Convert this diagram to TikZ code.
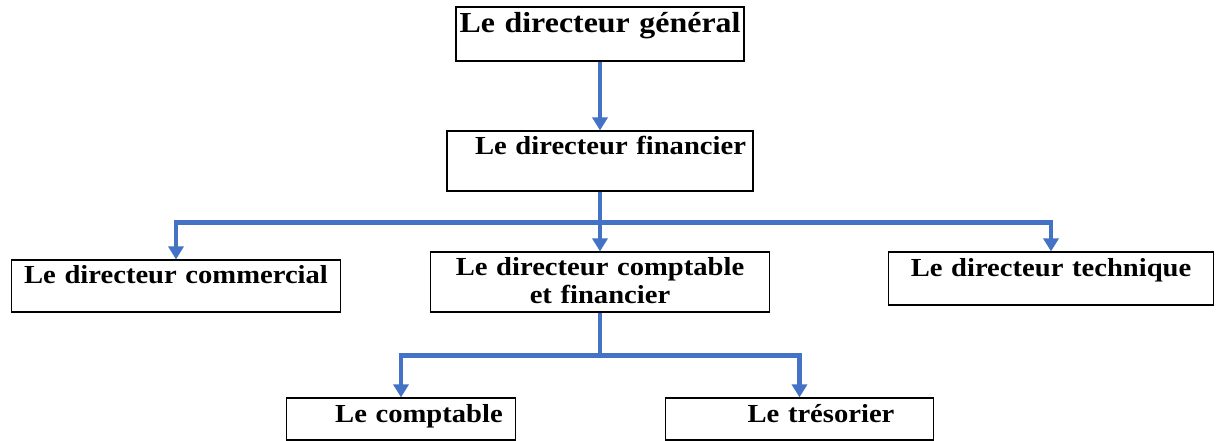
\documentclass[tikz,border=0pt]{standalone}
\usepackage{fontspec}
\setmainfont{Liberation Serif}[FakeStretch=1.1]
\usetikzlibrary{arrows.meta}
\definecolor{linkblue}{HTML}{4472C4}

\begin{document}
\begin{tikzpicture}[x=1pt, y=1pt, >={Triangle[width=15pt,length=13pt]}, node distance=120pt, post/.style={draw=black, line width=1.2pt, inner sep=0pt, align=center, font=\fontsize{26}{28}\selectfont\bfseries}, link/.style={->, draw=linkblue, line width=4.5pt}]
	\useasboundingbox (0,0) rectangle (1216,-441);
	\node[post, text width=288pt, text height=26pt, text depth=28pt, font=\fontsize{29}{31}\selectfont\bfseries] (dg) at (600,-34) {Le directeur général};
	\node[post, text width=306pt, text height=24pt, text depth=36pt] (df) [below of=dg, node distance=127pt] {\hspace*{21pt}Le directeur financier};
	\node[post, text width=339pt, text height=23pt, text depth=37pt] (dcf) [below of=df, node distance=121pt] {Le directeur comptable\\et financier};
	\node[post, text width=329pt, text height=23pt, text depth=29pt] (dc) [left of=dcf, node distance=424pt, yshift=-4pt] {Le directeur commercial};
	\node[post, text width=325pt, text height=24pt, text depth=29pt] (dt) [right of=dcf, node distance=451pt, yshift=3.5pt] {Le directeur technique\hspace*{17pt}};
	\node[post, text width=229pt, text height=24pt, text depth=18pt] (lc) [below of=dcf, node distance=137pt, xshift=-199pt] {\hspace*{36pt}Le comptable};
	\node[post, text width=268pt, text height=24pt, text depth=18pt] (lt) [right of=lc, node distance=398.5pt] {\hspace*{43pt}Le trésorier};

	% liaisons
	\path (df.south) ++(0,-31) coordinate (fork1);
	\path (dcf.south) ++(0,-43) coordinate (fork2);

	\draw[link] (dg) -- (df);
	\draw[link] (df.south) -- (fork1) -| (dc.north);
	\draw[link] (fork1) -| (dt.north);
	\draw[link] (fork1) -- (dcf.north);
	\draw[link] (dcf.south) -- (fork2) -| (lc.north);
	\draw[link] (fork2) -| (lt.north);
\end{tikzpicture}
\end{document}
